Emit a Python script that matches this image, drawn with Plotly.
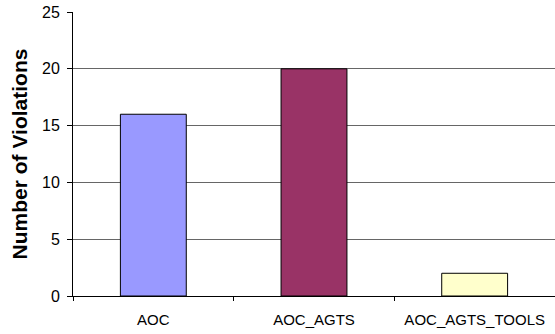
import plotly.graph_objects as go

# Violation counts per configuration
categories = ["AOC", "AOC_AGTS", "AOC_AGTS_TOOLS"]
violations = [16, 20, 2]
bar_colors = ["#9999FF", "#993366", "#FFFFCC"]
y_ticks = [0, 5, 10, 15, 20, 25]

fig = go.Figure(
    go.Bar(
        x=categories,
        y=violations,
        width=0.41,
        marker=dict(color=bar_colors, line=dict(color="#000000", width=1)),
        hoverinfo="x+y",
    )
)

fig.update_layout(
    width=555,
    height=334,
    margin=dict(l=73, r=0, t=12, b=38),
    paper_bgcolor="white",
    plot_bgcolor="white",
    showlegend=False,
    font=dict(family="Liberation Sans, Arial, sans-serif", color="#000000"),
)

fig.update_xaxes(
    showline=True,
    linecolor="#000000",
    linewidth=1,
    ticks="outside",
    tickson="boundaries",
    ticklen=4,
    tickcolor="#000000",
    tickfont=dict(size=15),
    ticklabelstandoff=10,
    showgrid=False,
)

fig.update_yaxes(
    range=[0, 25],
    tickvals=y_ticks,
    showline=True,
    linecolor="#000000",
    linewidth=1,
    ticks="outside",
    ticklen=5,
    tickcolor="#000000",
    tickfont=dict(size=16),
    ticklabelstandoff=4,
    showgrid=True,
    gridcolor="#666666",
    gridwidth=1,
    zeroline=False,
    title=dict(text="<b>Number of Violations</b>", font=dict(size=21), standoff=8),
)

fig.write_html("out.html")
